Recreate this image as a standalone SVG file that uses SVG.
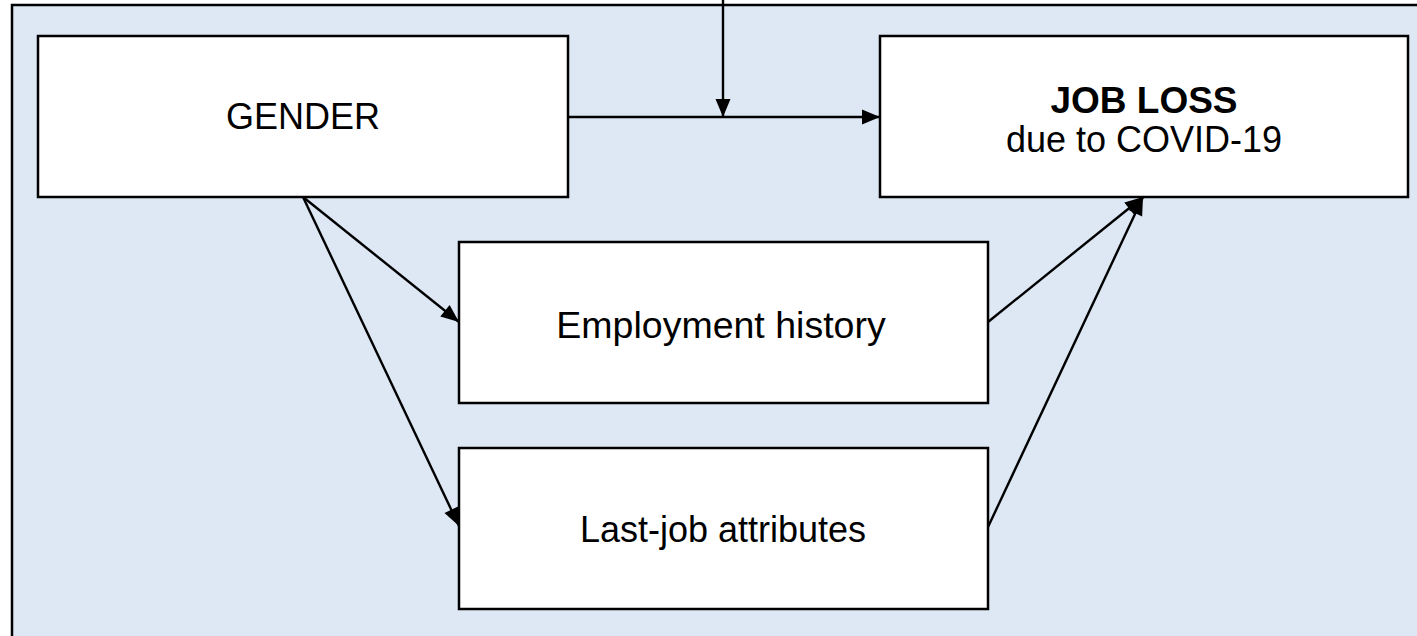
<svg xmlns="http://www.w3.org/2000/svg" width="1417" height="636" viewBox="0 0 1417 636">
<style>
.node rect{fill:#ffffff;stroke:#000000;stroke-width:2.5}
.lbl{font-family:"Liberation Sans",Arial,sans-serif;font-size:36px;fill:#000000;text-anchor:middle}
.b{font-weight:bold;font-size:37px}
.big{font-size:37.5px}
.conn line{stroke:#000000;stroke-width:2.4;fill:none}
</style>
<defs>
<marker id="ah" markerUnits="userSpaceOnUse" markerWidth="22" markerHeight="22" viewBox="0 0 22 22" refX="20" refY="11" orient="auto">
<path d="M2,3.5 L20,11 L2,18.5 Z" fill="#000000"/>
</marker>
</defs>
<rect id="panel" x="12" y="5" width="1420" height="640" fill="#dde8f4" stroke="#000000" stroke-width="2.5"/>
<g id="gender" class="node">
<rect x="38" y="36" width="530" height="161"/>
<text class="lbl" x="303" y="129">GENDER</text>
</g>
<g id="jobloss" class="node">
<rect x="880" y="36" width="528" height="161"/>
<text class="lbl b" x="1144" y="113">JOB LOSS</text>
<text class="lbl" x="1144" y="152">due to COVID-19</text>
</g>
<g id="employment" class="node">
<rect x="459" y="242" width="529" height="161"/>
<text class="lbl big" x="721" y="338">Employment history</text>
</g>
<g id="lastjob" class="node">
<rect x="459" y="448" width="529" height="161"/>
<text class="lbl" x="723" y="542">Last-job attributes</text>
</g>
<g id="connectors" class="conn">
<line x1="723" y1="0" x2="723" y2="117" marker-end="url(#ah)"/>
<line x1="568" y1="117" x2="880" y2="117" marker-end="url(#ah)"/>
<line x1="303" y1="197" x2="459" y2="322" marker-end="url(#ah)"/>
<line x1="303" y1="197" x2="459" y2="526" marker-end="url(#ah)"/>
<line x1="988" y1="322" x2="1143" y2="197" marker-end="url(#ah)"/>
<line x1="988" y1="527" x2="1143" y2="197" marker-end="url(#ah)"/>
</g>
</svg>
